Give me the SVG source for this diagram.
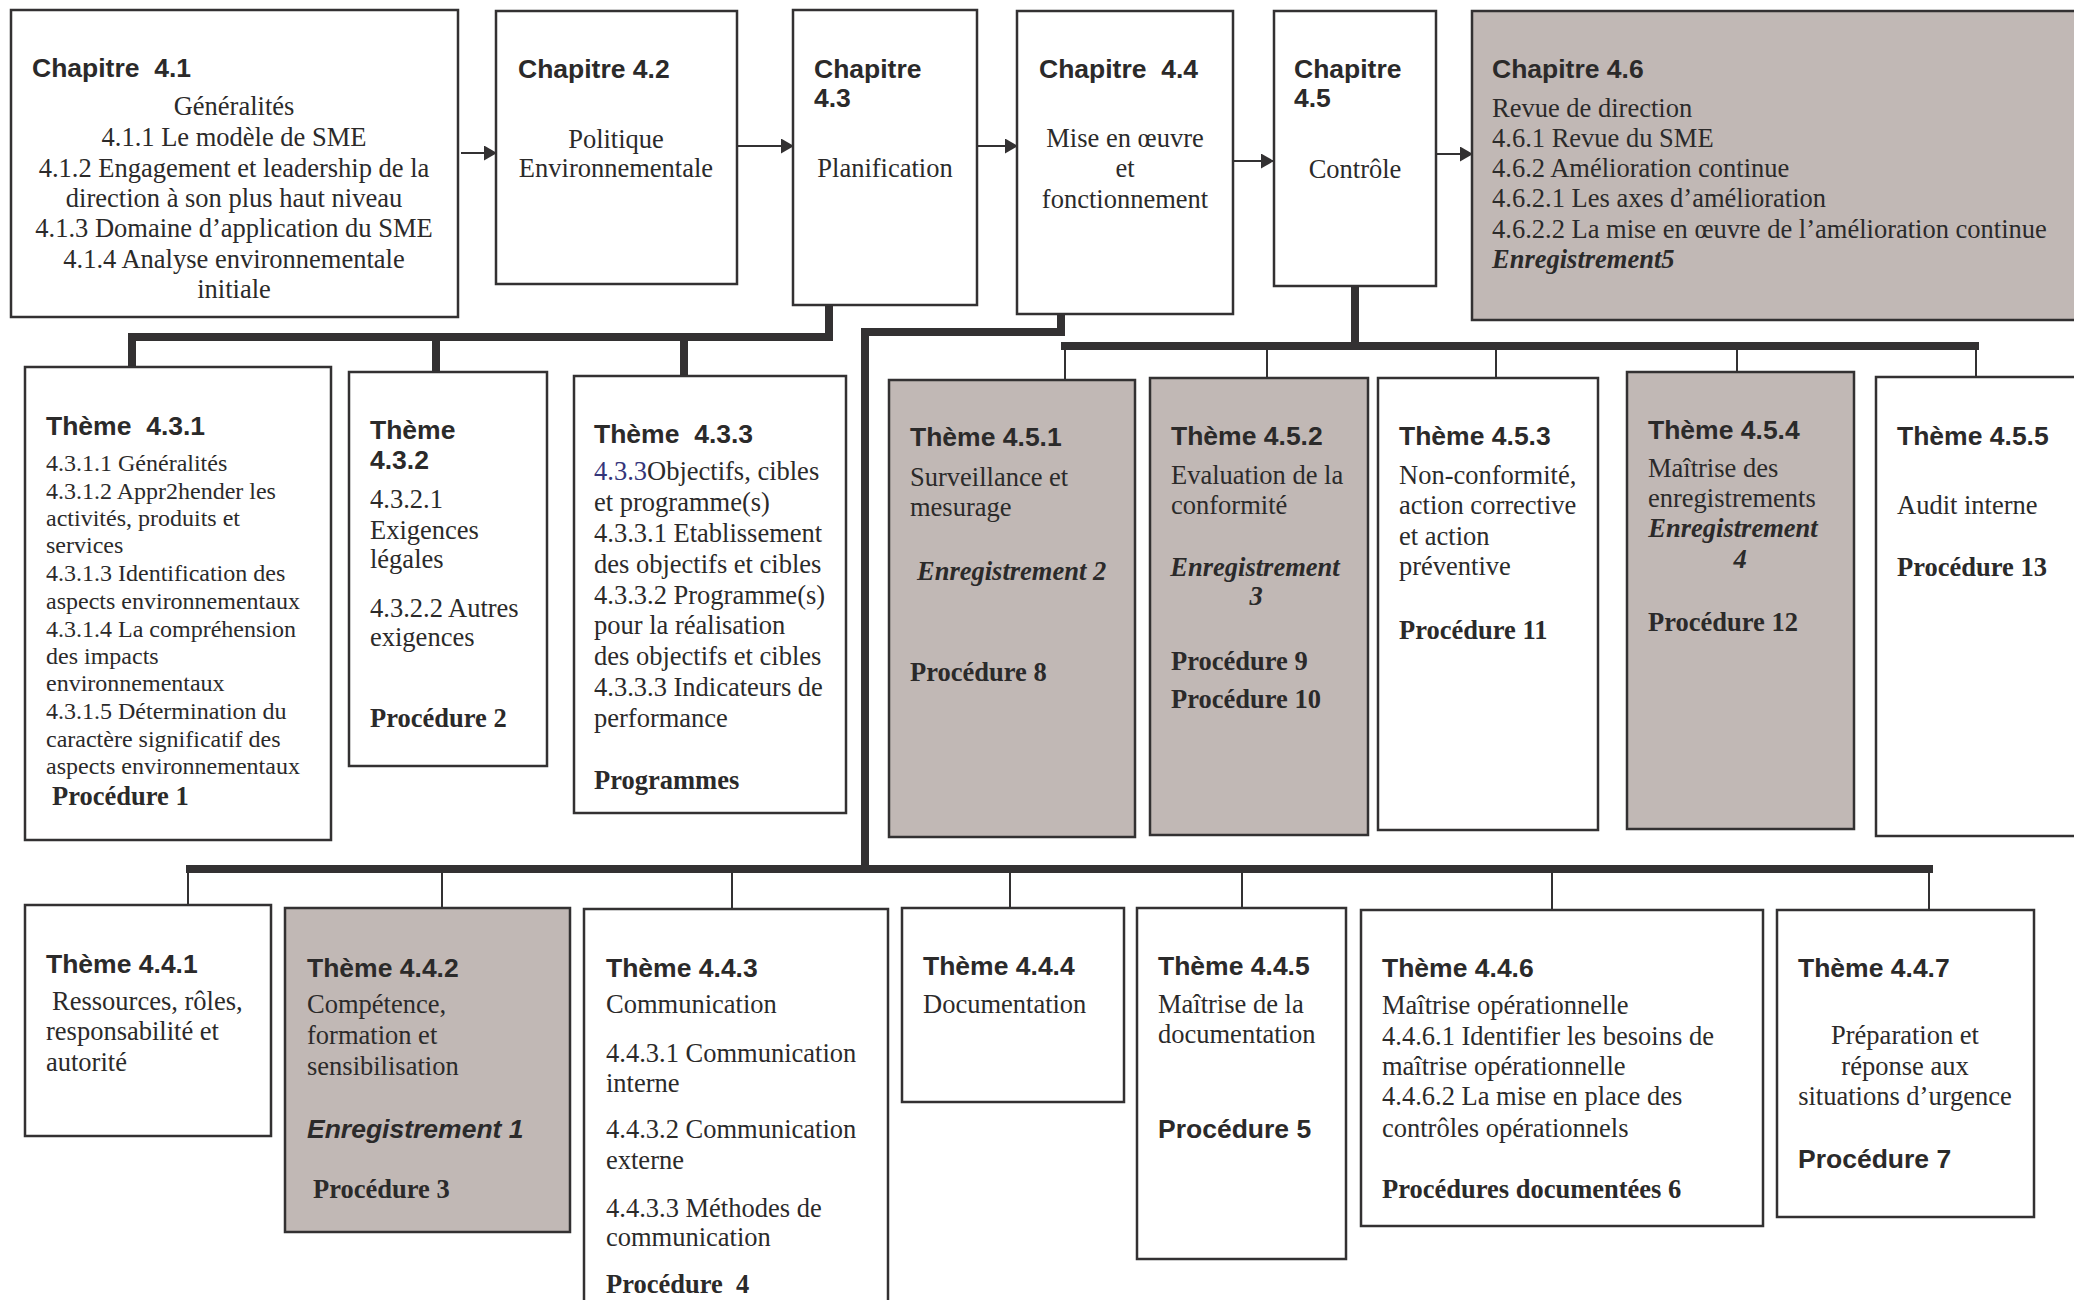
<svg xmlns="http://www.w3.org/2000/svg" width="2074" height="1300" viewBox="0 0 2074 1300">
<style>
.box{fill:#ffffff;stroke:#333132;stroke-width:2.5}
.sh{fill:#c1b8b5;stroke:#333132;stroke-width:2.5}
.thick{fill:none;stroke:#333132;stroke-width:8;stroke-linejoin:miter}
.thin{fill:none;stroke:#333132;stroke-width:2}
.arr{fill:none;stroke:#333132;stroke-width:2.2}
text{fill:#2b2a2a}
.t{font-family:"Liberation Sans",Arial,sans-serif;font-weight:bold;font-size:26.5px}
.b{font-family:"Liberation Serif","Times New Roman",serif;font-size:26.5px}
.s{font-family:"Liberation Serif","Times New Roman",serif;font-size:24px}
.pb{font-family:"Liberation Serif","Times New Roman",serif;font-size:26.5px;font-weight:bold}
.ei{font-family:"Liberation Serif","Times New Roman",serif;font-size:26.5px;font-weight:bold;font-style:italic}
.es{font-family:"Liberation Sans",Arial,sans-serif;font-size:26.5px;font-weight:bold;font-style:italic}
.ps{font-family:"Liberation Sans",Arial,sans-serif;font-size:26.5px;font-weight:bold}
.c{text-anchor:middle}
</style>
<defs>
<marker id="ah" markerUnits="userSpaceOnUse" markerWidth="14" markerHeight="16" refX="13" refY="7.5" orient="auto">
<path d="M0,0 L13,7.5 L0,15 z" fill="#333132"/>
</marker>
</defs>

<g id="connectors">
<!-- arrows between chapters -->
<line class="arr" x1="461" y1="153" x2="497" y2="153" marker-end="url(#ah)"/>
<line class="arr" x1="737" y1="146" x2="794" y2="146" marker-end="url(#ah)"/>
<line class="arr" x1="978" y1="146" x2="1018" y2="146" marker-end="url(#ah)"/>
<line class="arr" x1="1234" y1="161" x2="1274" y2="161" marker-end="url(#ah)"/>
<line class="arr" x1="1437" y1="154" x2="1473" y2="154" marker-end="url(#ah)"/>
<!-- chapter 4.3 tree -->
<path class="thick" d="M829,305 V337"/>
<path class="thick" d="M128,337 H833"/>
<path class="thick" d="M132,337 V367 M436,337 V372 M684,337 V376"/>
<!-- chapter 4.4 tree -->
<path class="thick" d="M1061,314 V332 H865 V869"/>
<path class="thick" d="M186,869 H1933"/>
<path class="thin" d="M188,869 V905 M442,869 V908 M732,869 V909 M1010,869 V908 M1242,869 V908 M1552,869 V910 M1929,869 V910"/>
<!-- chapter 4.5 tree -->
<path class="thick" d="M1355,286 V346"/>
<path class="thick" d="M1061,346 H1979"/>
<path class="thin" d="M1065,346 V380 M1267,346 V378 M1496,346 V378 M1737,346 V372 M1976,346 V377"/>
</g>

<g id="ch41">
<rect class="box" x="11" y="10" width="447" height="307"/>
<text class="t" x="32" y="77" xml:space="preserve">Chapitre  4.1</text>
<text class="b c" x="234" y="115">Généralités</text>
<text class="b c" x="234" y="146">4.1.1 Le modèle de SME</text>
<text class="b c" x="234" y="177">4.1.2 Engagement et leadership de la</text>
<text class="b c" x="234" y="207">direction à son plus haut niveau</text>
<text class="b c" x="234" y="237">4.1.3 Domaine d’application du SME</text>
<text class="b c" x="234" y="268">4.1.4 Analyse environnementale</text>
<text class="b c" x="234" y="298">initiale</text>
</g>

<g id="ch42">
<rect class="box" x="496" y="11" width="241" height="273"/>
<text class="t" x="518" y="78">Chapitre 4.2</text>
<text class="b c" x="616" y="148">Politique</text>
<text class="b c" x="616" y="177">Environnementale</text>
</g>

<g id="ch43">
<rect class="box" x="793" y="10" width="184" height="295"/>
<text class="t" x="814" y="78">Chapitre</text>
<text class="t" x="814" y="107">4.3</text>
<text class="b c" x="885" y="177">Planification</text>
</g>

<g id="ch44">
<rect class="box" x="1017" y="11" width="216" height="303"/>
<text class="t" x="1039" y="78" xml:space="preserve">Chapitre  4.4</text>
<text class="b c" x="1125" y="147">Mise en œuvre</text>
<text class="b c" x="1125" y="177">et</text>
<text class="b c" x="1125" y="208">fonctionnement</text>
</g>

<g id="ch45">
<rect class="box" x="1274" y="11" width="162" height="275"/>
<text class="t" x="1294" y="78">Chapitre</text>
<text class="t" x="1294" y="107">4.5</text>
<text class="b c" x="1355" y="178">Contrôle</text>
</g>

<g id="ch46">
<rect class="sh" x="1472" y="11" width="620" height="309"/>
<text class="t" x="1492" y="78">Chapitre 4.6</text>
<text class="b" x="1492" y="117">Revue de direction</text>
<text class="b" x="1492" y="147">4.6.1 Revue du SME</text>
<text class="b" x="1492" y="177">4.6.2 Amélioration continue</text>
<text class="b" x="1492" y="207">4.6.2.1 Les axes d’amélioration</text>
<text class="b" x="1492" y="238">4.6.2.2 La mise en œuvre de l’amélioration continue</text>
<text class="ei" x="1492" y="268">Enregistrement5</text>
</g>

<g id="th431">
<rect class="box" x="25" y="367" width="306" height="473"/>
<text class="t" x="46" y="435" xml:space="preserve">Thème  4.3.1</text>
<text class="s" x="46" y="471">4.3.1.1 Généralités</text>
<text class="s" x="46" y="499">4.3.1.2 Appr2hender les</text>
<text class="s" x="46" y="526">activités, produits et</text>
<text class="s" x="46" y="553">services</text>
<text class="s" x="46" y="581">4.3.1.3 Identification des</text>
<text class="s" x="46" y="609">aspects environnementaux</text>
<text class="s" x="46" y="637">4.3.1.4 La compréhension</text>
<text class="s" x="46" y="664">des impacts</text>
<text class="s" x="46" y="691">environnementaux</text>
<text class="s" x="46" y="719">4.3.1.5 Détermination du</text>
<text class="s" x="46" y="747">caractère significatif des</text>
<text class="s" x="46" y="774">aspects environnementaux</text>
<text class="pb" x="52" y="805">Procédure 1</text>
</g>

<g id="th432">
<rect class="box" x="349" y="372" width="198" height="394"/>
<text class="t" x="370" y="439">Thème</text>
<text class="t" x="370" y="469">4.3.2</text>
<text class="b" x="370" y="508">4.3.2.1</text>
<text class="b" x="370" y="539">Exigences</text>
<text class="b" x="370" y="568">légales</text>
<text class="b" x="370" y="617">4.3.2.2 Autres</text>
<text class="b" x="370" y="646">exigences</text>
<text class="pb" x="370" y="727">Procédure 2</text>
</g>

<g id="th433">
<rect class="box" x="574" y="376" width="272" height="437"/>
<text class="t" x="594" y="443" xml:space="preserve">Thème  4.3.3</text>
<text class="b" x="594" y="480"><tspan fill="#35357a">4.3.3</tspan>Objectifs, cibles</text>
<text class="b" x="594" y="511">et programme(s)</text>
<text class="b" x="594" y="542">4.3.3.1 Etablissement</text>
<text class="b" x="594" y="573">des objectifs et cibles</text>
<text class="b" x="594" y="604">4.3.3.2 Programme(s)</text>
<text class="b" x="594" y="634">pour la réalisation</text>
<text class="b" x="594" y="665">des objectifs et cibles</text>
<text class="b" x="594" y="696">4.3.3.3 Indicateurs de</text>
<text class="b" x="594" y="727">performance</text>
<text class="pb" x="594" y="789">Programmes</text>
</g>

<g id="th451">
<rect class="sh" x="889" y="380" width="246" height="457"/>
<text class="t" x="910" y="446">Thème 4.5.1</text>
<text class="b" x="910" y="486">Surveillance et</text>
<text class="b" x="910" y="516">mesurage</text>
<text class="ei" x="917" y="580">Enregistrement 2</text>
<text class="pb" x="910" y="681">Procédure 8</text>
</g>

<g id="th452">
<rect class="sh" x="1150" y="378" width="218" height="457"/>
<text class="t" x="1171" y="445">Thème 4.5.2</text>
<text class="b" x="1171" y="484">Evaluation de la</text>
<text class="b" x="1171" y="514">conformité</text>
<text class="ei c" x="1255" y="576">Enregistrement</text>
<text class="ei c" x="1256" y="605">3</text>
<text class="pb" x="1171" y="670">Procédure 9</text>
<text class="pb" x="1171" y="708">Procédure 10</text>
</g>

<g id="th453">
<rect class="box" x="1378" y="378" width="220" height="452"/>
<text class="t" x="1399" y="445">Thème 4.5.3</text>
<text class="b" x="1399" y="484">Non-conformité,</text>
<text class="b" x="1399" y="514">action corrective</text>
<text class="b" x="1399" y="545">et action</text>
<text class="b" x="1399" y="575">préventive</text>
<text class="pb" x="1399" y="639">Procédure 11</text>
</g>

<g id="th454">
<rect class="sh" x="1627" y="372" width="227" height="457"/>
<text class="t" x="1648" y="439">Thème 4.5.4</text>
<text class="b" x="1648" y="477">Maîtrise des</text>
<text class="b" x="1648" y="507">enregistrements</text>
<text class="ei c" x="1733" y="537">Enregistrement</text>
<text class="ei c" x="1740" y="568">4</text>
<text class="pb" x="1648" y="631">Procédure 12</text>
</g>

<g id="th455">
<rect class="box" x="1876" y="377" width="216" height="459"/>
<text class="t" x="1897" y="445">Thème 4.5.5</text>
<text class="b" x="1897" y="514">Audit interne</text>
<text class="pb" x="1897" y="576">Procédure 13</text>
</g>

<g id="th441">
<rect class="box" x="25" y="905" width="246" height="231"/>
<text class="t" x="46" y="973">Thème 4.4.1</text>
<text class="b" x="52" y="1010">Ressources, rôles,</text>
<text class="b" x="46" y="1040">responsabilité et</text>
<text class="b" x="46" y="1071">autorité</text>
</g>

<g id="th442">
<rect class="sh" x="285" y="908" width="285" height="324"/>
<text class="t" x="307" y="977">Thème 4.4.2</text>
<text class="b" x="307" y="1013">Compétence,</text>
<text class="b" x="307" y="1044">formation et</text>
<text class="b" x="307" y="1075">sensibilisation</text>
<text class="es" x="307" y="1138">Enregistrement 1</text>
<text class="pb" x="313" y="1198">Procédure 3</text>
</g>

<g id="th443">
<rect class="box" x="584" y="909" width="304" height="410"/>
<text class="t" x="606" y="977">Thème 4.4.3</text>
<text class="b" x="606" y="1013">Communication</text>
<text class="b" x="606" y="1062">4.4.3.1 Communication</text>
<text class="b" x="606" y="1092">interne</text>
<text class="b" x="606" y="1138">4.4.3.2 Communication</text>
<text class="b" x="606" y="1169">externe</text>
<text class="b" x="606" y="1217">4.4.3.3 Méthodes de</text>
<text class="b" x="606" y="1246">communication</text>
<text class="pb" x="606" y="1293" xml:space="preserve">Procédure  4</text>
</g>

<g id="th444">
<rect class="box" x="902" y="908" width="222" height="194"/>
<text class="t" x="923" y="975">Thème 4.4.4</text>
<text class="b" x="923" y="1013">Documentation</text>
</g>

<g id="th445">
<rect class="box" x="1137" y="908" width="209" height="351"/>
<text class="t" x="1158" y="975">Thème 4.4.5</text>
<text class="b" x="1158" y="1013">Maîtrise de la</text>
<text class="b" x="1158" y="1043">documentation</text>
<text class="ps" x="1158" y="1138">Procédure 5</text>
</g>

<g id="th446">
<rect class="box" x="1361" y="910" width="402" height="316"/>
<text class="t" x="1382" y="977">Thème 4.4.6</text>
<text class="b" x="1382" y="1014">Maîtrise opérationnelle</text>
<text class="b" x="1382" y="1045">4.4.6.1 Identifier les besoins de</text>
<text class="b" x="1382" y="1075">maîtrise opérationnelle</text>
<text class="b" x="1382" y="1105">4.4.6.2 La mise en place des</text>
<text class="b" x="1382" y="1137">contrôles opérationnels</text>
<text class="pb" x="1382" y="1198">Procédures documentées 6</text>
</g>

<g id="th447">
<rect class="box" x="1777" y="910" width="257" height="307"/>
<text class="t" x="1798" y="977">Thème 4.4.7</text>
<text class="b c" x="1905" y="1044">Préparation et</text>
<text class="b c" x="1905" y="1075">réponse aux</text>
<text class="b c" x="1905" y="1105">situations d’urgence</text>
<text class="ps" x="1798" y="1168">Procédure 7</text>
</g>
</svg>
